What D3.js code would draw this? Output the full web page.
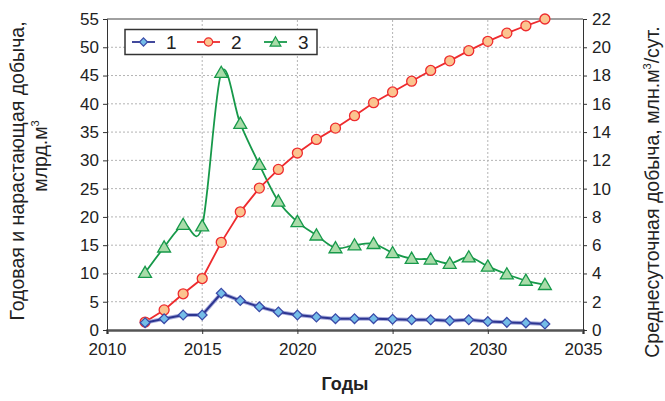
<!DOCTYPE html>
<html>
<head>
<meta charset="utf-8">
<script src="https://cdn.jsdelivr.net/npm/d3@7"></script>
<style>
  body { margin: 0; background: #fff; }
  svg { display: block; font-family: "Liberation Sans", Arial, sans-serif; }
  .grid line { stroke: #b4b4b4; stroke-dasharray: 2,2; }
</style>
</head>
<body>
<script>
// data
const years = d3.range(2012, 2034)
const annual = [1.3, 2.0, 2.65, 2.65, 6.5, 5.2, 4.1, 3.2, 2.65, 2.3, 2.0, 2.0, 2.0, 1.9, 1.8, 1.8, 1.65, 1.8, 1.5, 1.35, 1.25, 1.05]
const cumulative = [1.4, 3.55, 6.4, 9.1, 15.5, 20.9, 25.1, 28.4, 31.3, 33.7, 35.7, 37.9, 40.2, 42.1, 44.0, 45.9, 47.6, 49.4, 51.05, 52.5, 53.8, 55.0]
const daily = [4.05, 5.85, 7.45, 7.35, 18.2, 14.6, 11.7, 9.1, 7.65, 6.7, 5.8, 6.0, 6.1, 5.45, 5.05, 5.0, 4.7, 5.15, 4.5, 3.95, 3.5, 3.2]
const xTicks = [2010, 2015, 2020, 2025, 2030, 2035]
const leftTicks = d3.range(0, 56, 5)
const rightTicks = d3.range(0, 23, 2)
const seriesNames = ['1', '2', '3']

const W = 665, H = 401
const margin = {top: 19, right: 82, bottom: 71, left: 107}

const svg = d3.select('body').append('svg')
  .attr('width', W)
  .attr('height', H)

const x = d3.scaleLinear().domain([2010, 2035]).range([margin.left, W - margin.right])
const yL = d3.scaleLinear().domain([0, 55]).range([H - margin.bottom, margin.top])
const yR = d3.scaleLinear().domain([0, 22]).range([H - margin.bottom, margin.top])

// gridlines
const grid = svg.append('g').attr('class', 'grid')
grid.selectAll('.h')
  .data(leftTicks.filter(d => d > 0 && d < 55))
  .join('line')
  .attr('x1', x(2010)).attr('x2', x(2035))
  .attr('y1', d => yL(d)).attr('y2', d => yL(d))
grid.selectAll('.v')
  .data(xTicks.filter(d => d > 2010 && d < 2035))
  .join('line')
  .attr('x1', d => x(d)).attr('x2', d => x(d))
  .attr('y1', yL(0)).attr('y2', yL(55))

// top border
svg.append('line')
  .attr('x1', x(2010)).attr('x2', x(2035))
  .attr('y1', yL(55)).attr('y2', yL(55))
  .attr('stroke', '#a0a0a0').attr('stroke-width', 2)

// axes
const fs = 17
const xAxis = svg.append('g')
  .attr('transform', `translate(0,${yL(0)})`)
  .call(d3.axisBottom(x).tickValues(xTicks).tickFormat(d3.format('d')).tickSizeOuter(0).tickSize(4).tickPadding(5))
const leftAxis = svg.append('g')
  .attr('transform', `translate(${x(2010)},0)`)
  .call(d3.axisLeft(yL).tickValues(leftTicks).tickSizeOuter(0).tickSize(4).tickPadding(4))
const rightAxis = svg.append('g')
  .attr('transform', `translate(${x(2035)},0)`)
  .call(d3.axisRight(yR).tickValues(rightTicks).tickSizeOuter(0).tickSize(4).tickPadding(5))

;[xAxis, leftAxis, rightAxis].forEach(a => {
  a.selectAll('text').attr('font-size', fs).attr('fill', '#222').attr('font-family', '"Liberation Sans", Arial, sans-serif')
  a.selectAll('.tick line').attr('stroke', '#333')
  a.select('.domain').attr('stroke', '#333')
})
xAxis.select('.domain').attr('stroke', '#555').attr('stroke-width', 2.5)
xAxis.selectAll('text').attr('dy', '0.95em')

// axis titles
svg.append('text')
  .attr('x', 345).attr('y', 390)
  .attr('text-anchor', 'middle')
  .attr('font-size', 18).attr('font-weight', 'bold').attr('fill', '#222')
  .text('Годы')

const tfs = 19.5
const lt = svg.append('text')
  .attr('transform', 'translate(24,171) rotate(-90)')
  .attr('text-anchor', 'middle')
  .attr('font-size', tfs).attr('fill', '#222')
lt.append('tspan').attr('x', 0).attr('y', 0).text('Годовая и нарастающая добыча,')
const lt2 = lt.append('tspan').attr('x', 15).attr('y', 23)
lt2.append('tspan').text('млрд.м')
lt2.append('tspan').attr('dy', -8).attr('font-size', 11).text('3')

const rt = svg.append('text')
  .attr('transform', 'translate(659,192) rotate(-90)')
  .attr('text-anchor', 'middle')
  .attr('font-size', tfs).attr('fill', '#222')
rt.append('tspan').text('Среднесуточная добыча, млн.м')
rt.append('tspan').attr('dy', -8).attr('font-size', 11).text('3')
rt.append('tspan').attr('dy', 8).text('/сут.')

// series
const styles = [
  {values: annual, y: yL, line: '#2d3591', fill: '#74bde8', stroke: '#3a4aa8', sym: d3.symbolDiamond2, size: 60, curve: d3.curveLinear},
  {values: cumulative, y: yL, line: '#ee2b2e', fill: '#fbc48f', stroke: '#ee2b2e', sym: d3.symbolCircle, size: 78, curve: d3.curveLinear},
  {values: daily, y: yR, line: '#17994a', fill: '#a9dca9', stroke: '#17994a', sym: d3.symbolTriangle, size: 72, curve: d3.curveCardinal.tension(0)}
]

const drawOrder = [2, 1, 0]
drawOrder.forEach(i => {
  const s = styles[i]
  const pts = years.map((yr, j) => [yr, s.values[j]])
  const line = d3.line().x(d => x(d[0])).y(d => s.y(d[1])).curve(s.curve)
  if (i === 0) {
    svg.append('path').attr('d', line(pts)).attr('fill', 'none')
      .attr('stroke', '#a9addc').attr('stroke-width', 4)
  }
  svg.append('path').attr('d', line(pts)).attr('fill', 'none')
    .attr('stroke', s.line).attr('stroke-width', i === 0 ? 2 : 1.8)
  svg.append('g').selectAll('path')
    .data(pts)
    .join('path')
    .attr('transform', d => `translate(${x(d[0])},${s.y(d[1]) + (i === 2 ? 1 : 0)})`)
    .attr('d', d3.symbol().type(s.sym).size(s.size))
    .attr('fill', s.fill)
    .attr('stroke', s.stroke)
    .attr('stroke-width', 1.3)
})

// legend
const lg = svg.append('g')
lg.append('rect')
  .attr('x', 125).attr('y', 29.5).attr('width', 192).attr('height', 25)
  .attr('fill', '#fff').attr('stroke', '#333').attr('stroke-width', 1.5)
const legX = [132, 197, 264]
styles.forEach((s, i) => {
  const g = lg.append('g').attr('transform', `translate(${legX[i]},42)`)
  g.append('line').attr('x1', 0).attr('x2', 23).attr('stroke', s.line).attr('stroke-width', 1.8)
  g.append('path')
    .attr('transform', `translate(11.5,${i === 2 ? 1 : 0})`)
    .attr('d', d3.symbol().type(s.sym).size(s.size * 0.7))
    .attr('fill', s.fill).attr('stroke', s.stroke).attr('stroke-width', 1.2)
  g.append('text').attr('x', 34).attr('y', 7)
    .attr('font-size', 19).attr('fill', '#222').text(seriesNames[i])
})
</script>
</body>
</html>
